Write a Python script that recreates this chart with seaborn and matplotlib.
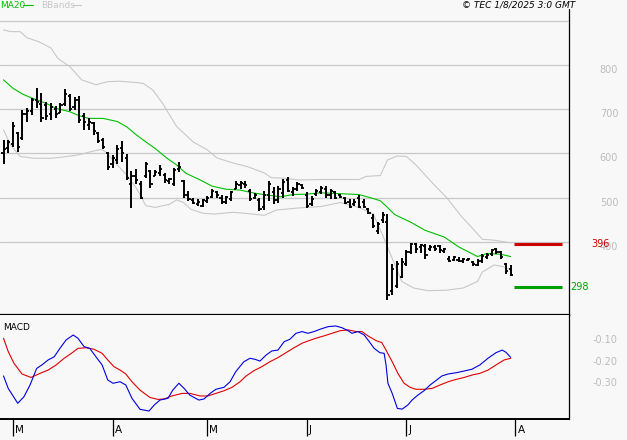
import matplotlib
matplotlib.use("Agg")
import matplotlib.pyplot as plt
import seaborn as sns
import numpy as np
from matplotlib.lines import Line2D
from matplotlib.transforms import offset_copy

# --- Data (bar index 0 = 27 Feb 2025, daily bars) ---
highs = [630, 630, 672, 649, 698, 702, 725, 748, 736, 717, 714, 706, 714, 746, 735, 727, 729, 691, 680, 672,
         649, 634, 604, 596, 619, 627, 598, 560, 565, 537, 581, 563, 563, 574, 556, 544, 567, 581, 541, 515,
         500, 496, 496, 504, 519, 515, 507, 504, 515, 537, 537, 537, 519, 511, 500, 515, 538, 523, 527, 542,
         546, 523, 535, 531, 512, 504, 519, 527, 527, 519, 515, 508, 502, 496, 496, 505, 496, 477, 462, 446,
         467, 462, 350, 356, 363, 381, 398, 398, 395, 395, 392, 392, 392, 387, 368, 368, 367, 364, 364, 358,
         361, 372, 376, 385, 387, 380, 353, 349]
lows = [577, 600, 615, 604, 630, 672, 687, 702, 672, 676, 676, 680, 691, 706, 695, 699, 668, 653, 653, 642,
        623, 611, 562, 566, 577, 581, 540, 477, 530, 496, 544, 522, 548, 548, 533, 530, 526, 559, 500, 493,
        485, 481, 478, 489, 500, 500, 485, 485, 493, 519, 519, 522, 493, 496, 469, 472, 492, 485, 488, 500,
        512, 504, 515, 519, 477, 481, 504, 508, 500, 496, 496, 500, 485, 477, 481, 477, 477, 462, 431, 419,
        443, 270, 280, 295, 318, 345, 372, 376, 376, 361, 380, 380, 376, 376, 355, 357, 355, 353, 357, 345,
        345, 353, 361, 368, 372, 361, 327, 323]
opens = [600, 612, 622, 645, 635, 690, 695, 720, 712, 710, 690, 700, 692, 712, 730, 705, 720, 685, 665, 668,
         645, 630, 600, 575, 585, 612, 590, 530, 550, 530, 548, 560, 550, 555, 552, 538, 530, 565, 538, 505,
         495, 485, 482, 492, 502, 512, 500, 490, 497, 520, 528, 530, 515, 500, 495, 478, 505, 512, 495, 510,
         540, 512, 520, 528, 505, 485, 508, 512, 520, 505, 512, 505, 500, 490, 485, 500, 490, 475, 455, 425,
         450, 445, 290, 300, 320, 350, 378, 395, 388, 390, 385, 388, 390, 380, 362, 360, 360, 358, 360, 355,
         348, 358, 365, 372, 385, 378, 350, 340]
closes = [610, 625, 662, 615, 690, 695, 720, 715, 680, 685, 705, 688, 710, 735, 700, 720, 675, 670, 672, 650,
          628, 615, 570, 590, 610, 600, 545, 548, 540, 500, 575, 530, 558, 565, 540, 542, 562, 570, 505, 498,
          488, 490, 494, 500, 515, 505, 490, 502, 512, 530, 532, 528, 498, 506, 475, 505, 530, 495, 520, 535,
          515, 520, 530, 522, 482, 498, 515, 522, 505, 515, 500, 502, 488, 480, 490, 480, 478, 465, 436, 440,
          460, 280, 340, 350, 355, 378, 395, 385, 392, 370, 388, 385, 382, 385, 358, 365, 358, 362, 362, 350,
          358, 368, 370, 382, 378, 365, 335, 325]

ma20_x = [0, 2, 4, 6, 9, 11, 14, 16, 18, 21, 24, 26, 28, 30, 32, 34.5, 36.5, 38.5, 41.5, 44, 47,
          50, 52.5, 55.5, 58.5, 61, 64, 67, 75, 78, 79.5, 81, 82.5, 86, 89, 93, 96, 100, 102, 105, 107]
ma20_y = [766, 747, 734, 725, 713, 702, 694, 685, 679, 679, 672, 660, 642, 626, 611, 589, 574, 555, 540, 526, 519,
          517, 511, 506, 502, 507, 508, 511, 507, 498, 493, 478, 462, 444, 426, 411, 389, 367, 374, 372, 367]

bb_up_x = [0, 1.5, 3.5, 5, 7.5, 10, 11.5, 14, 16.5, 19.5, 22, 24.5, 28, 29.5, 31.5, 33.5, 36.5, 40, 43, 45, 48.5,
           51.5, 55, 56.5, 59, 62.5, 67, 71, 75, 76.5, 79.5, 81, 83, 85, 87, 90.5, 93.5, 96.5, 99, 101, 103.5, 107]
bb_up_y = [879, 875, 875, 861, 852, 838, 814, 796, 766, 755, 762, 763, 760, 758, 743, 714, 661, 626, 608, 590, 578,
           570, 556, 545, 544, 540, 541, 541, 541, 548, 550, 585, 594, 593, 574, 533, 500, 459, 430, 406, 404, 398]

bb_lo_x = [0, 1.5, 3.5, 6.5, 10, 13.5, 16, 18.5, 20.5, 21.5, 24, 26, 28, 29, 30, 32, 35, 36.5, 38, 39.5, 42, 44.5,
           48.5, 52.5, 55, 57.5, 62.5, 67, 71, 75, 78, 80, 82, 84, 86.5, 89.5, 93.5, 97, 100, 101, 103.5, 105.5, 107]
bb_lo_y = [653, 619, 593, 589, 589, 593, 597, 604, 609, 604, 574, 551, 522, 503, 482, 478, 485, 495, 489, 474, 465, 463,
           467, 463, 460, 472, 477, 480, 489, 478, 463, 415, 363, 311, 296, 290, 291, 296, 311, 332, 348, 344, 337]

macd_x = [0, 1, 3, 4.3, 5.6, 7, 8.1, 9.4, 10.7, 11.9, 13.2, 14.7, 15.7, 17, 18.2, 19.5, 20.8, 22, 23.1, 24.6, 25.8,
          27.1, 28.8, 30.7, 31.8, 33, 34.7, 35.7, 37, 38.1, 39.3, 41.2, 42.3, 43.6, 44.8, 46.5, 47.8, 49, 50.7, 52,
          53.1, 54.1, 55.4, 56.6, 57.9, 59.2, 60.4, 61.7, 63, 64.2, 65.5, 66.8, 68.5, 70.1, 71.4, 72.7, 73.5, 74.8,
          76.1, 76.9, 78.2, 79.4, 80.3, 80.7, 81.1, 82, 83.1, 84.1, 85.3, 86.2, 87.4, 88.7, 90, 91.2, 92.5, 93.8,
          95.5, 97.2, 98.8, 100.5, 102.2, 103.9, 105.2, 106, 107]
macd_y = [-0.267, -0.325, -0.394, -0.364, -0.309, -0.232, -0.216, -0.193, -0.178, -0.139, -0.100, -0.077, -0.092,
          -0.131, -0.139, -0.178, -0.216, -0.286, -0.301, -0.294, -0.309, -0.371, -0.422, -0.430, -0.402, -0.379,
          -0.371, -0.333, -0.301, -0.325, -0.356, -0.379, -0.374, -0.348, -0.329, -0.320, -0.294, -0.247, -0.201,
          -0.185, -0.190, -0.198, -0.170, -0.151, -0.147, -0.108, -0.097, -0.069, -0.061, -0.069, -0.061, -0.050,
          -0.038, -0.035, -0.043, -0.057, -0.069, -0.061, -0.077, -0.100, -0.139, -0.159, -0.162, -0.216, -0.301,
          -0.348, -0.418, -0.421, -0.402, -0.379, -0.356, -0.336, -0.309, -0.289, -0.267, -0.258, -0.252, -0.244,
          -0.236, -0.216, -0.185, -0.159, -0.147, -0.157, -0.181]

signal_x = [0, 1, 2.2, 3.9, 5.8, 7.7, 9.4, 11.1, 12.8, 14.5, 15.7, 17.4, 19.1, 20.8, 22, 23.3, 24.6, 25.8, 27.1,
            28.8, 30.9, 32.6, 33.9, 35.5, 37.7, 39.3, 41.5, 43.1, 44.8, 46.5, 48.2, 49.9, 51.2, 52.8, 54.5, 56.2,
            57.9, 59.6, 61.3, 63, 64.2, 65.9, 67.6, 69.3, 71, 72.7, 74.4, 75.6, 76.9, 78.6, 79.8, 80.7, 82, 83.2,
            84.5, 85.8, 87, 88.7, 90.4, 92.1, 93.8, 95.5, 97.2, 98.8, 100.5, 102.2, 103.9, 105.6, 107]
signal_y = [-0.092, -0.154, -0.208, -0.258, -0.274, -0.255, -0.240, -0.216, -0.185, -0.159, -0.139, -0.136, -0.143,
            -0.162, -0.193, -0.224, -0.240, -0.258, -0.294, -0.333, -0.367, -0.376, -0.374, -0.360, -0.348, -0.348,
            -0.360, -0.360, -0.348, -0.336, -0.320, -0.294, -0.267, -0.243, -0.224, -0.201, -0.182, -0.159, -0.136,
            -0.115, -0.105, -0.092, -0.081, -0.069, -0.057, -0.053, -0.061, -0.061, -0.081, -0.103, -0.112, -0.147,
            -0.201, -0.255, -0.301, -0.320, -0.329, -0.329, -0.325, -0.309, -0.294, -0.283, -0.274, -0.263, -0.255,
            -0.240, -0.216, -0.193, -0.185]

levels = [396, 298]
level_colors = ["#cc0000", "#00a000"]

month_idx = [2, 23, 43, 64, 85, 108]
month_labels = ["M", "A", "M", "J", "J", "A"]
price_ticks = [400, 500, 600, 700, 800]
macd_ticks = [-0.10, -0.20, -0.30]
macd_tick_labels = ["-0.10", "-0.20", "-0.30"]

# --- Style ---
BG = "#f8f8f8"
GRID = "#c8c8c8"
LABEL = "#bcbcbc"
W, H = 627, 440

sns.set_style("white")
plt.rcParams["font.family"] = ["DejaVu Sans"]

fig = plt.figure(figsize=(W / 100, H / 100), dpi=100, facecolor=BG)
ax1 = fig.add_axes([0, 1 - 315 / H, 569 / W, (315 - 21) / H], facecolor=BG)
ax2 = fig.add_axes([0, 1 - 419 / H, 569 / W, (419 - 315) / H], facecolor=BG)

xlim = (-0.74, 119.3)

# --- Price panel ---
idx = np.arange(len(highs))
ax1.set_axisbelow(True)
for y in price_ticks:
    ax1.axhline(y, color=GRID, lw=0.9, zorder=0)

sns.lineplot(x=bb_up_x, y=bb_up_y, ax=ax1, color=GRID, lw=0.8, estimator=None, sort=False)
sns.lineplot(x=bb_lo_x, y=bb_lo_y, ax=ax1, color=GRID, lw=0.8, estimator=None, sort=False)
sns.lineplot(x=ma20_x, y=ma20_y, ax=ax1, color="#00c000", lw=0.8, estimator=None, sort=False)

ax1.vlines(idx, lows, highs, color="black", lw=1.4, zorder=3)
ax1.hlines(opens, idx - 0.45, idx, color="black", lw=1.3, zorder=3)
ax1.hlines(closes, idx, idx + 0.45, color="black", lw=1.3, zorder=3)

last = idx[-1]
for lv, c in zip(levels, level_colors):
    ax1.hlines(lv, last + 0.7, last + 10.8, color=c, lw=2.2, zorder=3)

ax1.set_xlim(xlim)
ax1.set_ylim(235, 899)
ax1.set_xticks([])
ax1.set_yticks([])
ax1.set_xlabel("")
ax1.set_ylabel("")
ax1.spines["left"].set_visible(False)
ax1.spines["top"].set_color(GRID)
ax1.spines["top"].set_linewidth(0.9)
ax1.spines["right"].set_color("black")
ax1.spines["right"].set_linewidth(0.9)
ax1.spines["bottom"].set_color("black")
ax1.spines["bottom"].set_linewidth(1.6)

ytr = ax1.get_yaxis_transform()
for y in price_ticks:
    ax1.text(609 / 569, y, str(y), transform=ytr, ha="center", va="top",
             fontsize=7, color=LABEL, clip_on=False)
ax1.text(601 / 569, levels[0], str(levels[0]), transform=ytr, ha="center", va="center",
         fontsize=7, color=level_colors[0], clip_on=False)
ax1.text(570 / 569, levels[1], str(levels[1]), transform=ytr, ha="left", va="center",
         fontsize=7, color=level_colors[1], clip_on=False)

# --- MACD panel ---
sns.lineplot(x=signal_x, y=signal_y, ax=ax2, color="#e00000", lw=0.8, estimator=None, sort=False)
sns.lineplot(x=macd_x, y=macd_y, ax=ax2, color="#0000e0", lw=0.8, estimator=None, sort=False)
ax2.set_xlim(xlim)
ax2.set_ylim(-0.467, 0.016)
ax2.set_yticks([])
ax2.set_xlabel("")
ax2.set_ylabel("")
ax2.set_xticks(month_idx)
ax2.tick_params(axis="x", bottom=True, length=12, width=0.9, color="black",
                labelbottom=False, direction="out")
ax2.spines["left"].set_visible(False)
ax2.spines["top"].set_visible(False)
ax2.spines["right"].set_color("black")
ax2.spines["right"].set_linewidth(0.9)
ax2.spines["bottom"].set_color("black")
ax2.spines["bottom"].set_linewidth(1.4)

ytr2 = ax2.get_yaxis_transform()
for v, lab in zip(macd_ticks, macd_tick_labels):
    ax2.text(605 / 569, v, lab, transform=ytr2, ha="center", va="center",
             fontsize=7, color=LABEL, clip_on=False)

xtr = offset_copy(ax2.get_xaxis_transform(), fig=fig, x=2, y=0, units="dots")
for m, lab in zip(month_idx, month_labels):
    ax2.text(m, -0.055, lab, transform=xtr, ha="left", va="top", fontsize=7.5,
             color="black", clip_on=False)

# --- Header texts ---
fig.text(3 / W, 1 - 327 / H, "MACD", fontsize=6.5, color="black", ha="left", va="center")
fig.text(0, 1 - 5 / H, "MA20", fontsize=6.5, color="#00c000", ha="left", va="center")
fig.add_artist(Line2D([23 / W, 33 / W], [1 - 5 / H, 1 - 5 / H], color="#00c000", lw=0.8))
fig.text(41 / W, 1 - 5 / H, "BBands", fontsize=6.5, color=GRID, ha="left", va="center")
fig.add_artist(Line2D([72 / W, 81 / W], [1 - 5 / H, 1 - 5 / H], color=GRID, lw=0.8))
fig.text(575 / W, 1 - 5 / H, "\u00a9 TEC 1/8/2025 3:0 GMT", fontsize=6.5, style="italic",
         color="black", ha="right", va="center")
fig.add_artist(Line2D([569 / W, 569 / W], [1 - 9 / H, 1 - 21 / H], color="black", lw=0.9))

fig.savefig("out.png", dpi=100, facecolor=BG)
